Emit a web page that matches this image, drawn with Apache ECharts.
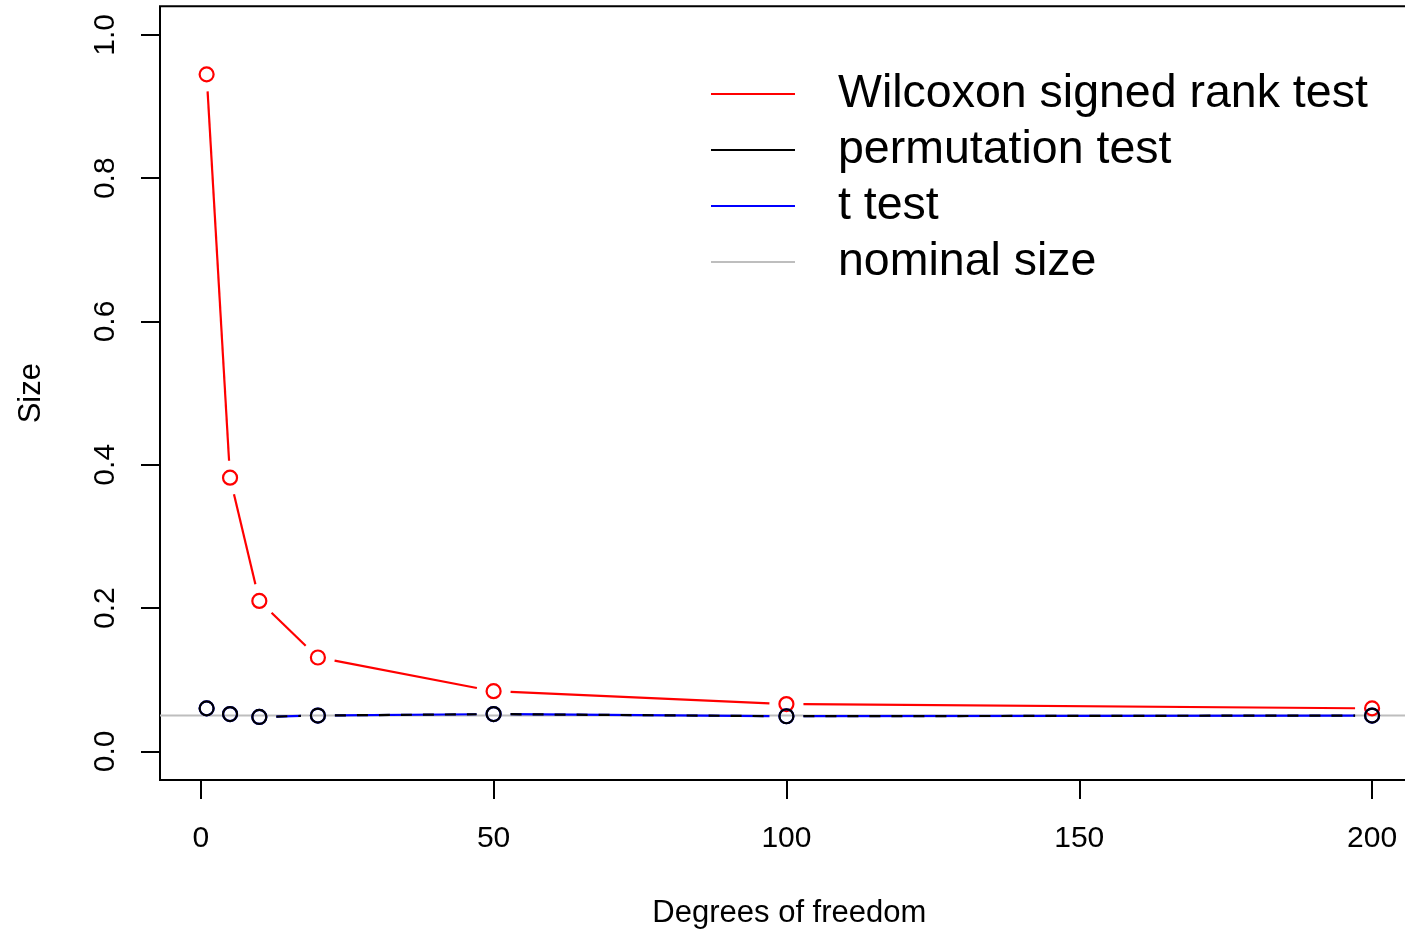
<!DOCTYPE html>
<html>
<head>
<meta charset="utf-8">
<title>Size of tests by degrees of freedom</title>
<script src="https://cdn.jsdelivr.net/npm/echarts@6/dist/echarts.min.js"></script>
<style>
  html, body { margin: 0; padding: 0; background: #fff; overflow: hidden; }
  /* the plot region runs slightly past the right edge of the page */
  #chart { width: 1420px; height: 934px; }
</style>
</head>
<body>
<div id="chart"></div>
<script>
// Degrees of freedom of the simulated t distribution
const degreesOfFreedom = [1, 5, 10, 20, 50, 100, 200];

// Empirical size (rejection rate) of each test
const wilcoxonSize    = [0.945, 0.382, 0.210, 0.131, 0.084, 0.066, 0.060];
const permutationSize = [0.060, 0.052, 0.048, 0.050, 0.052, 0.049, 0.050];
const tTestSize       = [0.060, 0.052, 0.048, 0.050, 0.052, 0.049, 0.050];

// Nominal level of the tests
const nominalSize = 0.05;

// Tick labels
const xTicks = [0, 50, 100, 150, 200];
const yTicks = [0, 0.2, 0.4, 0.6, 0.8, 1.0];

const FONT = '"Liberation Sans", Arial, Helvetica, sans-serif';
const GAP = 17;     // empty space between a point and its connecting line
const RADIUS = 7;   // open circle radius

// rows: [x, y, next x, next y]
function rows(xs, ys) {
  return xs.map((x, i) => [
    x, ys[i],
    i + 1 < xs.length ? xs[i + 1] : '-',
    i + 1 < xs.length ? ys[i + 1] : '-'
  ]);
}

// points joined by lines that stop short of each point
function pointsAndLines(color, dash) {
  return function (params, api) {
    const p0 = api.coord([api.value(0), api.value(1)]);
    const children = [];
    const nx = api.value(2), ny = api.value(3);
    if (Number.isFinite(nx) && Number.isFinite(ny)) {
      const p1 = api.coord([nx, ny]);
      const dx = p1[0] - p0[0], dy = p1[1] - p0[1];
      const len = Math.sqrt(dx * dx + dy * dy);
      if (len > 2 * GAP) {
        const ux = dx / len, uy = dy / len;
        children.push({
          type: 'line',
          shape: {
            x1: p0[0] + ux * GAP, y1: p0[1] + uy * GAP,
            x2: p1[0] - ux * GAP, y2: p1[1] - uy * GAP
          },
          style: { stroke: color, lineWidth: 2.2, lineDash: dash || null }
        });
      }
    }
    children.push({
      type: 'circle',
      shape: { cx: p0[0], cy: p0[1], r: RADIUS },
      style: { fill: 'none', stroke: color, lineWidth: 2.2 }
    });
    return { type: 'group', children };
  };
}

function testSeries(name, ys, color, dash, z) {
  return {
    name,
    type: 'custom',
    z,
    data: rows(degreesOfFreedom, ys),
    dimensions: ['x', 'y', 'x2', 'y2'],
    encode: { x: [0, 2], y: [1, 3] },
    itemStyle: { color },
    renderItem: pointsAndLines(color, dash),
    clip: false,
    silent: true
  };
}

const chart = echarts.init(document.getElementById('chart'), null, { renderer: 'canvas' });

chart.setOption({
  animation: false,
  backgroundColor: '#ffffff',
  textStyle: { fontFamily: FONT },
  grid: {
    left: 160, top: 6.3, right: 1.3, bottom: 153,
    show: true, borderColor: '#000', borderWidth: 2, backgroundColor: 'transparent'
  },
  xAxis: {
    type: 'value',
    min: -6.96, max: 207.96,
    name: 'Degrees of freedom',
    nameLocation: 'middle',
    nameGap: 118,
    nameTextStyle: { fontSize: 31, color: '#000', fontFamily: FONT },
    axisLine: { show: false, onZero: false },
    splitLine: { show: false },
    axisTick: { show: true, customValues: xTicks, length: 19, inside: false, lineStyle: { color: '#000', width: 2 } },
    axisLabel: { customValues: xTicks, fontSize: 30, color: '#000', margin: 44, fontFamily: FONT, formatter: v => String(v) }
  },
  yAxis: {
    type: 'value',
    min: -0.04, max: 1.04,
    name: 'Size',
    nameLocation: 'middle',
    nameGap: 113,
    nameTextStyle: { fontSize: 31, color: '#000', fontFamily: FONT },
    axisLine: { show: false, onZero: false },
    splitLine: { show: false },
    axisTick: { show: true, customValues: yTicks, length: 19, inside: false, lineStyle: { color: '#000', width: 2 } },
    axisLabel: { customValues: yTicks, rotate: 90, fontSize: 30, color: '#000', margin: 39, fontFamily: FONT, formatter: v => v.toFixed(1) }
  },
  legend: {
    orient: 'vertical',
    left: 711, top: 66,
    padding: 0,
    itemWidth: 84, itemHeight: 2, itemGap: 0,
    icon: 'rect',
    selectedMode: false,
    textStyle: { fontSize: 46.5, lineHeight: 56, color: '#000', fontFamily: FONT, padding: [0, 0, 0, 38] },
    data: ['Wilcoxon signed rank test', 'permutation test', 't test', 'nominal size']
  },
  series: [
    {
      // horizontal reference line across the whole plot region
      name: 'nominal size',
      type: 'custom',
      z: 1,
      data: [[0, nominalSize]],
      encode: { x: 0, y: 1 },
      itemStyle: { color: '#bebebe' },
      clip: false,
      silent: true,
      renderItem: function (params, api) {
        const cs = params.coordSys;
        const y = api.coord([api.value(0), api.value(1)])[1];
        return {
          type: 'line',
          shape: { x1: cs.x, y1: y, x2: cs.x + cs.width, y2: y },
          style: { stroke: '#bebebe', lineWidth: 2 }
        };
      }
    },
    testSeries('Wilcoxon signed rank test', wilcoxonSize, '#ff0000', null, 3),
    testSeries('t test', tTestSize, '#0000ff', null, 4),
    testSeries('permutation test', permutationSize, '#000000', [11, 11], 5)
  ]
});
</script>
</body>
</html>
